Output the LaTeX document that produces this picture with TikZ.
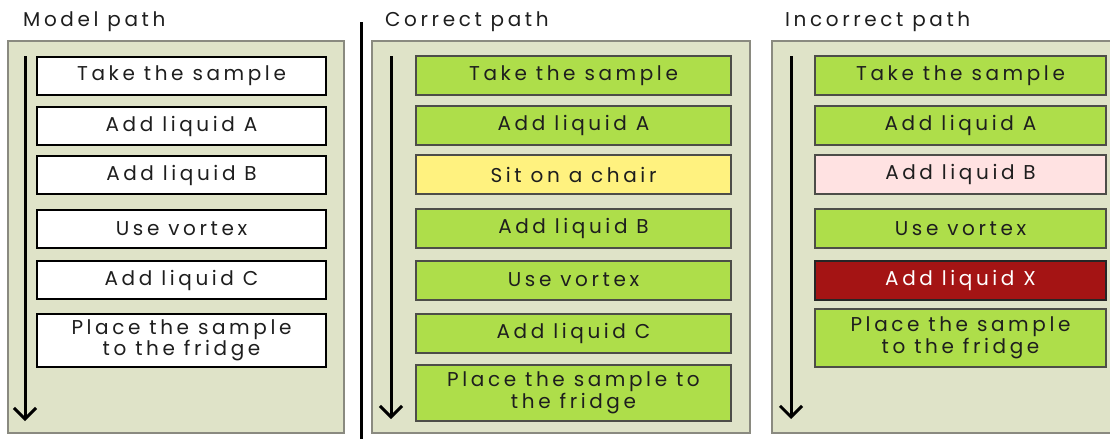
\documentclass[tikz,border=0pt]{standalone}
\usepackage{fontspec}
\setmainfont{Poppins}[LetterSpace=18]
\usetikzlibrary{arrows.meta}

\definecolor{panelbg}{HTML}{DFE3C8}
\definecolor{panelline}{HTML}{8A8A80}
\definecolor{okgreen}{HTML}{AEDE4A}
\definecolor{sityellow}{HTML}{FFF27F}
\definecolor{badpink}{HTML}{FFE2E2}
\definecolor{badred}{HTML}{A41414}
\definecolor{boxline}{HTML}{4D4D48}
\definecolor{ink}{HTML}{1E1E1E}

\tikzset{
  panel/.style={draw=panelline,fill=panelbg,line width=1.5pt},
  title/.style={anchor=west,inner sep=0pt,text=ink,font=\fontsize{20}{22}\selectfont},
  stepbox/.style={line width=2pt,inner sep=0pt,align=center,text=ink,
    font=\fontsize{20}{20}\selectfont,minimum height=39pt},
  plainbox/.style={stepbox,draw=black,fill=white,minimum width=289pt},
  goodbox/.style={stepbox,draw=boxline,fill=okgreen},
  timeline/.style={line width=3pt,-{Straight Barb[length=11pt,width=22pt]}}
}

\begin{document}
\begin{tikzpicture}[x=1pt,y=-1pt]
\useasboundingbox (0,0) rectangle (1110,439);
% panels
\draw[panel] (8,41) rectangle (344,433);
\draw[panel] (372,41) rectangle (750,433);
\draw[panel] (772,41) rectangle (1118,433);
\draw[line width=3pt] (361,22)--(361,439);
\node[title] (tmodel) at (23,22) {Model path};
\node[title] (tcorrect) at (385,22) {Correct path};
\node[title] (tincorrect) at (785,22) {Incorrect path};

% model path
\coordinate (ms) at (25,56);
\coordinate (me) at (25,421);
\draw[timeline] (ms)--(me);
\node[plainbox,minimum height=38pt] (m1) at (181.5,76) {Take the sample};
\node[plainbox,minimum height=38pt] (m2) at (181.5,126) {Add liquid A};
\node[plainbox,minimum height=38pt] (m3) at (181.5,175) {Add liquid B};
\node[plainbox,minimum height=38pt] (m4) at (181.5,229) {Use vortex};
\node[plainbox,minimum height=38pt] (m5) at (181.5,280) {Add liquid C};
\node[plainbox,minimum height=53pt] (m6) at (181.5,340.5) {Place the sample\\to the fridge};

% correct path
\coordinate (cs) at (391,56);
\coordinate (ce) at (391,419);
\draw[timeline] (cs)--(ce);
\node[goodbox,minimum width=315pt] (c1) at (573.5,75.5) {Take the sample};
\node[goodbox,minimum width=315pt] (c2) at (573.5,125) {Add liquid A};
\node[goodbox,minimum width=315pt,fill=sityellow] (c3) at (573.5,174.5) {Sit on a chair};
\node[goodbox,minimum width=315pt] (c4) at (573.5,228.5) {Add liquid B};
\node[goodbox,minimum width=315pt] (c5) at (573.5,280) {Use vortex};
\node[goodbox,minimum width=315pt] (c6) at (573.5,333) {Add liquid C};
\node[goodbox,minimum width=315pt,minimum height=56pt] (c7) at (573.5,393) {Place the sample to\\the fridge};

% incorrect path
\coordinate (is) at (791,56);
\coordinate (ie) at (791,419);
\draw[timeline] (is)--(ie);
\node[goodbox,minimum width=291pt] (i1) at (960.5,75.5) {Take the sample};
\node[goodbox,minimum width=291pt] (i2) at (960.5,125) {Add liquid A};
\node[goodbox,minimum width=291pt,fill=badpink] (i3) at (960.5,174.5) {Add liquid B};
\node[goodbox,minimum width=291pt] (i4) at (960.5,228.5) {Use vortex};
\node[goodbox,minimum width=291pt,fill=badred,draw=black!85,text=white] (i5) at (960.5,280) {Add liquid X};
\node[goodbox,minimum width=291pt,minimum height=58pt] (i6) at (960.5,338) {Place the sample\\to the fridge};
\end{tikzpicture}
\end{document}
